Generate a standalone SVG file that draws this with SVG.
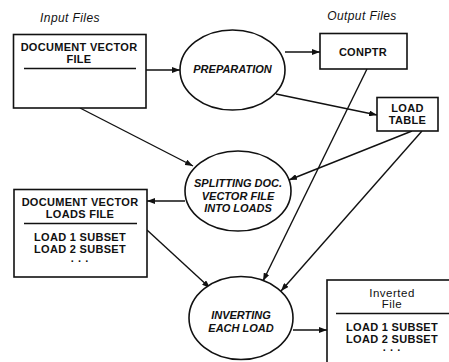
<svg xmlns="http://www.w3.org/2000/svg" width="449" height="362" viewBox="0 0 449 362">
  <style>
    .box { fill: #fff; stroke: #111; stroke-width: 1.6; }
    .proc { fill: #fff; stroke: #111; stroke-width: 1.6; }
    .rule { stroke: #111; stroke-width: 1.6; }
    .lbl { font-family: "Liberation Sans", Arial, sans-serif; font-weight: bold; font-size: 11px; letter-spacing: 0.3px; fill: #111; text-anchor: middle; }
    .proclbl { font-family: "Liberation Sans", Arial, sans-serif; font-weight: bold; font-style: italic; font-size: 11px; fill: #111; text-anchor: middle; }
    .head { font-family: "Liberation Sans", Arial, sans-serif; font-style: italic; font-size: 12px; letter-spacing: 0.4px; fill: #111; text-anchor: middle; }
    .small { font-family: "Liberation Sans", Arial, sans-serif; font-size: 11.5px; letter-spacing: 0.5px; fill: #111; text-anchor: middle; }
    .conn { fill: none; stroke: #111; stroke-width: 1.4; marker-end: url(#arrow); }
  </style>
  <defs>
    <marker id="arrow" markerUnits="userSpaceOnUse" markerWidth="8" markerHeight="6" refX="8" refY="3" orient="auto">
      <path d="M0,0 L8,3 L0,6 z" fill="#111"/>
    </marker>
  </defs>
  <rect width="449" height="362" fill="#fff"/>

  <text class="head" x="70" y="22">Input Files</text>
  <text class="head" x="362" y="20">Output Files</text>

  <g id="connectors">
    <line class="conn" x1="146" y1="70" x2="180" y2="70"/>
    <line class="conn" x1="285" y1="52" x2="320" y2="52"/>
    <line class="conn" x1="276" y1="94" x2="377" y2="115"/>
    <line class="conn" x1="80" y1="108" x2="193" y2="166"/>
    <line class="conn" x1="412" y1="131" x2="289" y2="180"/>
    <line class="conn" x1="185" y1="201" x2="147" y2="201"/>
    <line class="conn" x1="147" y1="230" x2="210" y2="288"/>
    <line class="conn" x1="367" y1="69" x2="263" y2="281"/>
    <line class="conn" x1="422" y1="131" x2="281" y2="291"/>
    <line class="conn" x1="293" y1="330" x2="327" y2="330"/>
  </g>

  <g id="doc-vector-file">
    <rect class="box" x="13.5" y="34.5" width="132.5" height="73.5"/>
    <text class="lbl" x="79" y="51">DOCUMENT VECTOR<tspan x="79" dy="12">FILE</tspan></text>
    <line class="rule" x1="24" y1="68.5" x2="136" y2="68.5"/>
  </g>

  <g id="preparation">
    <ellipse class="proc" cx="232.5" cy="70" rx="52.5" ry="40"/>
    <text class="proclbl" x="232.5" y="73">PREPARATION</text>
  </g>

  <g id="conptr">
    <rect class="box" x="320" y="33.5" width="87" height="35.5"/>
    <text class="lbl" x="363" y="56">CONPTR</text>
  </g>

  <g id="load-table">
    <rect class="box" x="377" y="97.5" width="61" height="33.5"/>
    <text class="lbl" x="407.5" y="112">LOAD<tspan x="407.5" dy="12">TABLE</tspan></text>
  </g>

  <g id="splitting">
    <ellipse class="proc" cx="238" cy="191" rx="53" ry="40"/>
    <text class="proclbl" x="238" y="187">SPLITTING DOC.<tspan x="238" dy="12.5">VECTOR FILE</tspan><tspan x="238" dy="12.5">INTO LOADS</tspan></text>
  </g>

  <g id="doc-vector-loads-file">
    <rect class="box" x="14" y="189.5" width="133" height="87.5"/>
    <text class="lbl" x="80" y="206">DOCUMENT VECTOR<tspan x="80" dy="11.5">LOADS FILE</tspan></text>
    <line class="rule" x1="24" y1="223.5" x2="137" y2="223.5"/>
    <text class="lbl" x="80" y="241">LOAD 1 SUBSET<tspan x="80" dy="11.5">LOAD 2 SUBSET</tspan><tspan x="80" dy="12">· · ·</tspan></text>
  </g>

  <g id="inverting">
    <ellipse class="proc" cx="241" cy="318" rx="52" ry="41.5"/>
    <text class="proclbl" x="241" y="319">INVERTING<tspan x="241" dy="13">EACH LOAD</tspan></text>
  </g>

  <g id="inverted-file">
    <rect class="box" x="327" y="280" width="140" height="100"/>
    <text class="small" x="392" y="297">Inverted<tspan x="392" dy="11">File</tspan></text>
    <line class="rule" x1="336" y1="313.5" x2="449" y2="313.5"/>
    <text class="lbl" x="392" y="331">LOAD 1 SUBSET<tspan x="392" dy="11.5">LOAD 2 SUBSET</tspan><tspan x="392" dy="11">· · ·</tspan></text>
  </g>
</svg>
